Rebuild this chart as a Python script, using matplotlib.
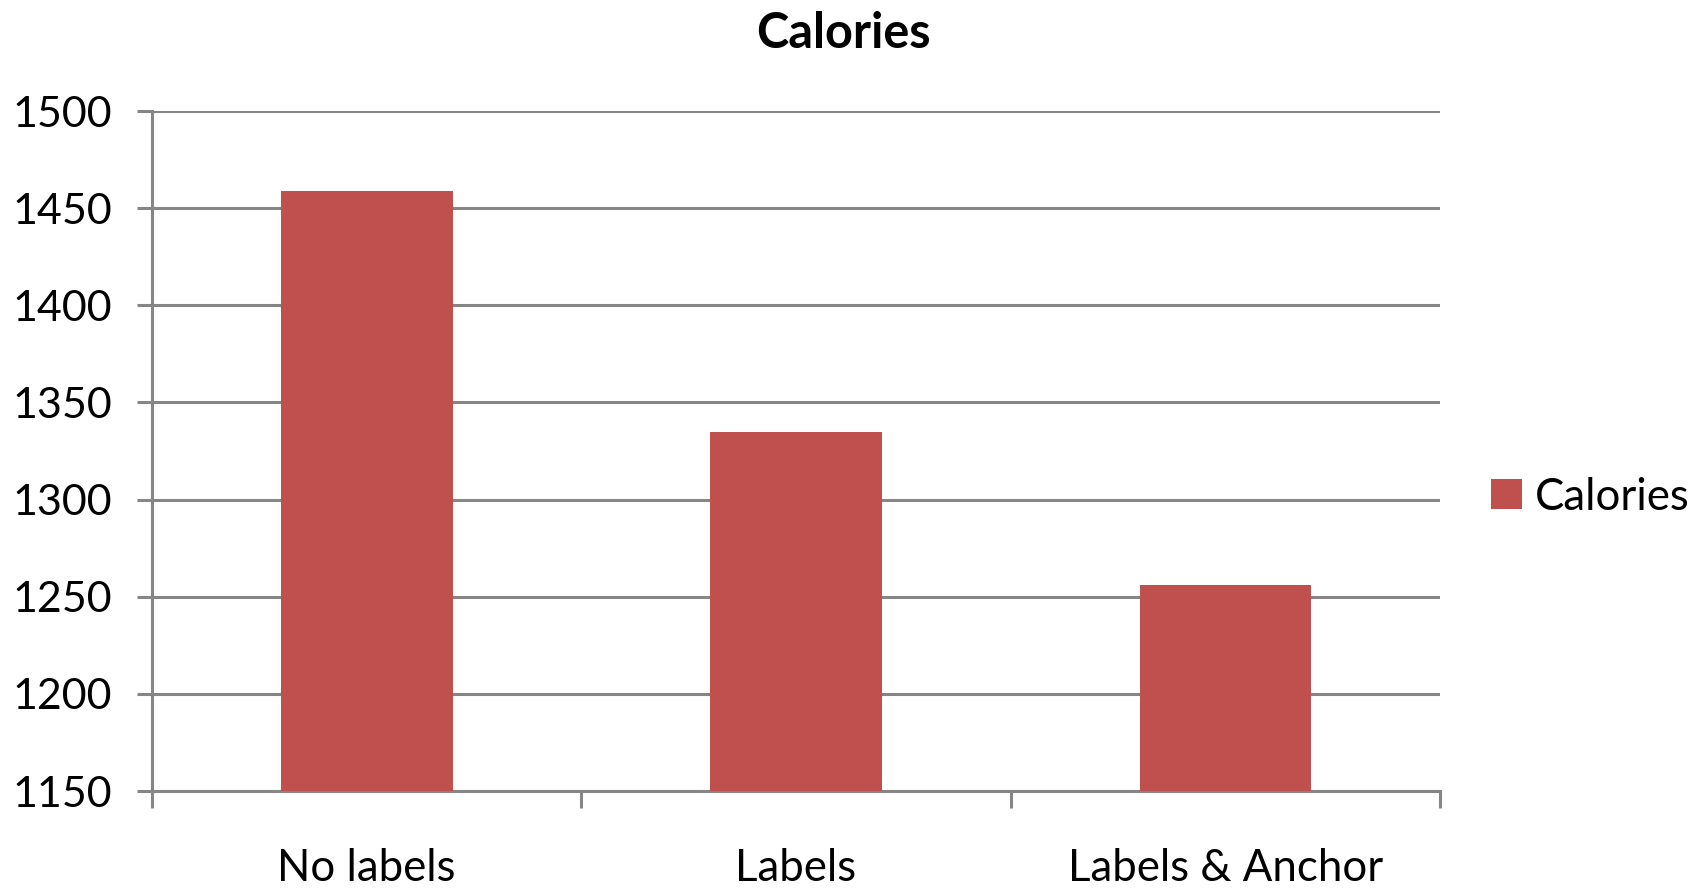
import matplotlib.pyplot as plt
import numpy as np

categories = ['No labels', 'Labels', 'Labels & Anchor']
calories = [1459, 1335, 1256]
y_ticks = [1150, 1200, 1250, 1300, 1350, 1400, 1450, 1500]

bar_color = '#C0504D'
grid_color = '#868686'

plt.rcParams['font.family'] = ['Lato', 'DejaVu Sans']

fig = plt.figure(figsize=(17.04, 8.88), dpi=100)
ax = fig.add_axes([0.0892, 0.1092, 0.7559, 0.7658])

x = np.arange(len(categories))
ax.bar(x, calories, width=0.4, color=bar_color, label='Calories', zorder=3)

ax.set_xlim(-0.5, len(categories) - 0.5)
ax.set_ylim(y_ticks[0], y_ticks[-1])
ax.set_yticks(y_ticks)
ax.yaxis.grid(True, color=grid_color, linewidth=2.2, zorder=0)
ax.set_axisbelow(True)

# category labels at bar centres, tick marks on the boundaries
ax.set_xticks(x)
ax.set_xticklabels(categories, fontsize=31.5)
ax.tick_params(axis='x', which='major', length=0, pad=41)
ax.set_xticks(np.arange(len(categories) + 1) - 0.5, minor=True)
ax.tick_params(axis='x', which='minor', length=12, width=2.2, color=grid_color)
ax.tick_params(axis='y', length=11, width=2.2, color=grid_color, labelsize=31, pad=18)

for side in ['top', 'right']:
    ax.spines[side].set_visible(False)
for side in ['left', 'bottom']:
    ax.spines[side].set_color(grid_color)
    ax.spines[side].set_linewidth(2.2)

fig.text(843 / 1704, 1 - 33 / 888, 'Calories', ha='center', va='center',
         fontsize=35, fontweight='bold')

fig.legend(loc='center left', bbox_to_anchor=(1452 / 1704, 1 - 497 / 888),
           frameon=False, fontsize=31.5, handlelength=0.7, handleheight=0.7,
           handletextpad=0.3)

fig.savefig('out.png', dpi=100)
